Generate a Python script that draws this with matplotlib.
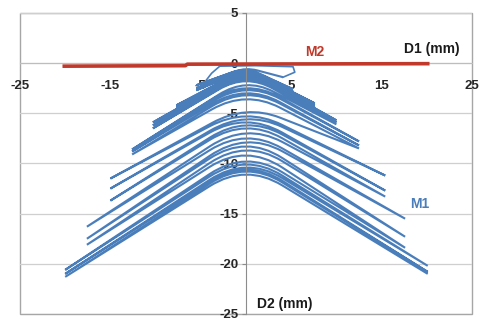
import numpy as np
import matplotlib
matplotlib.use("Agg")
import matplotlib.pyplot as plt
from matplotlib.path import Path
from matplotlib.patches import PathPatch, Rectangle

plt.rcParams['font.family'] = ['Liberation Sans', 'DejaVu Sans']

# ---------------- data ----------------
# M2: nearly flat red trace
m2_x = [-20.3, -6.7, -6.5, 20.3]
m2_y = [-0.30, -0.25, -0.10, -0.05]

# M1: first small loop (thin trace near the top)
m1_init_x = [-4.4, -3.8, -2.9, 1.0, 5.2, 5.4, 4.1]
m1_init_y = [-1.7, -1.0, -0.3, -0.25, -0.35, -0.9, -1.4]

# M1: amplitude levels (3 cycles per level)
level_amp_left = [5.5, 7.7, 10.3, 12.6, 15.0, 17.6, 20.0]
level_amp_right = [5.2, 7.6, 10.0, 12.5, 15.4, 17.6, 20.1]
cycles_per_level = 3

# per cycle: D2 at the left tip, at the right tip, and at the apex (D1 = 0)
left_tip_y = [-2.2, -2.5, -2.7, -4.2, -4.4, -4.6, -5.9, -6.2, -6.5,
              -8.6, -8.8, -9.1, -11.5, -12.5, -13.7, -16.3, -17.5, -18.1,
              -20.6, -21.0, -21.3]
right_tip_y = [-2.6, -2.8, -3.0, -4.0, -4.2, -4.4, -5.7, -5.9, -6.1,
               -7.8, -8.2, -8.5, -11.2, -12.7, -13.3, -15.5, -17.3, -18.4,
               -20.2, -20.8, -21.0]
peak_before_left = [-0.6, -0.8, -0.9, -1.0, -1.1, -1.2, -1.3, -1.5, -1.7,
                    -2.2, -2.7, -3.2, -4.9, -5.6, -6.2, -7.0, -7.9, -8.7,
                    -9.8, -10.4, -10.8]
peak_before_right = [-0.7, -0.85, -0.95, -1.05, -1.15, -1.25, -1.4, -1.6, -1.8,
                     -2.5, -3.0, -3.6, -5.3, -5.9, -6.5, -7.5, -8.3, -9.2,
                     -10.1, -10.6, -11.1]

x_tick_vals = [-25, -15, -5, 5, 15, 25]
x_tick_labels = ['-25', '-15', '-5', '5', '15', '25']
y_tick_vals = [5, 0, -5, -10, -15, -20, -25]
y_tick_labels = ['5', '0', '-5', '-10', '-15', '-20', '-25']

BLUE = '#4A7EBB'
RED = '#C0392B'

# ---------------- build the hysteresis path ----------------
amp_l = np.repeat(level_amp_left, cycles_per_level)
amp_r = np.repeat(level_amp_right, cycles_per_level)

tips = []
peaks = []
for k in range(len(left_tip_y)):
    peaks.append(peak_before_left[k]); tips.append((-amp_l[k], left_tip_y[k]))
    peaks.append(peak_before_right[k]); tips.append((amp_r[k], right_tip_y[k]))

verts = [(m1_init_x[-1], m1_init_y[-1])]
codes = [Path.MOVETO]
prev = verts[0]
for p, nxt in zip(peaks, tips):
    x1, y1 = prev
    x2, y2 = nxt
    c = min(4.0, 0.3 * min(abs(x1), abs(x2)))
    a = 0.25 * c * (1 / abs(x1) + 1 / abs(x2))
    b = 0.25 * c * (y1 / abs(x1) + y2 / abs(x2))
    v = (p - b) / (1 - a)
    q1 = (np.sign(x1) * c, v + (y1 - v) * c / abs(x1))
    q2 = (np.sign(x2) * c, v + (y2 - v) * c / abs(x2))
    verts += [q1, (0.0, v), q2, nxt]
    codes += [Path.LINETO, Path.CURVE3, Path.CURVE3, Path.LINETO]
    prev = nxt

# ---------------- figure ----------------
fig = plt.figure(figsize=(4.8, 3.2), dpi=100)
ax = fig.add_axes([20 / 480, 6 / 320, 452 / 480, 301 / 320])
ax.set_xlim(-25, 25)
ax.set_ylim(-25, 5)

for s in ['top', 'right']:
    ax.spines[s].set_visible(False)
ax.spines['left'].set_position(('data', 0))
ax.spines['bottom'].set_position(('data', 0))
ax.spines['left'].set_color('#8C8C8C')
ax.spines['bottom'].set_color('#BDBDBD')
ax.add_patch(Rectangle((0, 0), 1, 1, transform=ax.transAxes, fill=False,
                       ec='#A6A6A6', lw=1.0, clip_on=False, zorder=0.5))

ax.set_xticks(x_tick_vals)
ax.set_xticklabels(x_tick_labels)
ax.set_yticks(y_tick_vals)
ax.set_yticklabels(y_tick_labels)
ax.tick_params(axis='x', length=0, pad=12, labelsize=9.5)
ax.tick_params(axis='y', length=3, width=0.8, color='#8C8C8C', pad=2.5, labelsize=9.5)
for lab in ax.get_xticklabels() + ax.get_yticklabels():
    lab.set_fontweight('bold')
    lab.set_color('#262626')

ax.yaxis.grid(True, color='#CFCFCF', lw=0.9, zorder=0)
ax.set_axisbelow(True)

ax.plot(m1_init_x, m1_init_y, color=BLUE, lw=1.2, zorder=2)
ax.add_patch(PathPatch(Path(verts, codes), fill=False, ec=BLUE, lw=1.5, zorder=2))
ax.plot(m2_x, m2_y, color=RED, lw=2.6, zorder=3, solid_capstyle='butt')

ax.text(7.6, 1.1, 'M2', color=RED, fontsize=10, fontweight='bold', ha='center', va='center')
ax.text(20.5, 1.4, 'D1 (mm)', color='#1A1A1A', fontsize=10, fontweight='bold', ha='center', va='center')
ax.text(19.2, -14.0, 'M1', color=BLUE, fontsize=10, fontweight='bold', ha='center', va='center')
ax.text(1.2, -24.0, 'D2 (mm)', color='#1A1A1A', fontsize=10, fontweight='bold', ha='left', va='center')

fig.savefig('out.png', dpi=100)
